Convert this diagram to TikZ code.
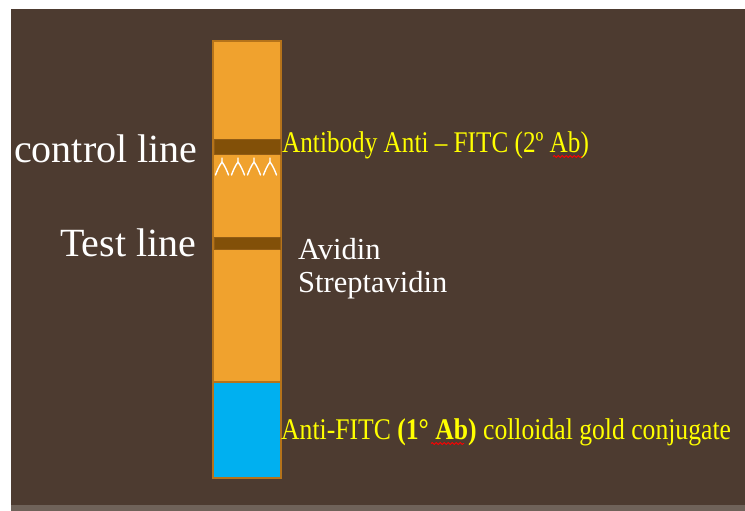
\documentclass[tikz,border=0pt]{standalone}
\usepackage{fontspec}
\setmainfont{Liberation Serif}
\usetikzlibrary{decorations.pathmorphing}
\definecolor{bgbrown}{HTML}{4D3B30}
\definecolor{bggray}{HTML}{6F6259}
\definecolor{striporange}{HTML}{F0A22E}
\definecolor{stripedge}{HTML}{B5731A}
\definecolor{bandbrown}{HTML}{825008}
\definecolor{padblue}{HTML}{00B0F0}
\definecolor{labelyellow}{HTML}{FFFF00}
\tikzset{
  leftlabel/.style={anchor=base west, inner sep=0pt, text=white, font=\fontsize{40}{46}\selectfont},
  whitelabel/.style={anchor=base west, inner sep=0pt, text=white, font=\fontsize{30.5}{36}\selectfont},
  yellowlabel/.style={anchor=base west, inner sep=0pt, text=labelyellow, font=\fontsize{30}{36}\selectfont},
  band/.style={fill=bandbrown, draw=stripedge!80!black, line width=0.6pt},
  squiggle/.style={draw=red, line width=0.9pt, decorate, decoration={snake, amplitude=0.9pt, segment length=4pt}},
  antibody/.style={draw=white, line width=1.4pt, line cap=round}
}
\begin{document}
\begin{tikzpicture}[x=1pt, y=-1pt]
\useasboundingbox (0,0) rectangle (745,511);
% background
\fill[white] (0,0) rectangle (745,511);
\fill[bgbrown] (11,9) rectangle (745,505);
\fill[bggray] (11,505) rectangle (745,511);
% strip
\draw[fill=striporange, draw=stripedge, line width=2pt] (213,41) rectangle (281,478);
\draw[fill=padblue, draw=stripedge, line width=1.5pt] (213.5,382) rectangle (280.5,477.5);
\draw[band] (214,139) rectangle (280,154);
\draw[band] (214,237) rectangle (280,249);
% antibodies below control line
\foreach \cx in {222,238,254,270}{
  \draw[antibody] (\cx,158) -- (\cx,162) .. controls (\cx-3,166) and (\cx-5,171) .. (\cx-6.5,175);
  \draw[antibody] (\cx,162) .. controls (\cx+3,166) and (\cx+5,171) .. (\cx+6.5,175);
}
% labels
\node[leftlabel] (ctrl) at (14,162) {control line};
\node[leftlabel] (test) at (60,256) {Test line};
\node[yellowlabel] (anti2) at (282,153) {\scalebox{0.84}[1]{Antibody Anti – FITC (2º Ab)}};
\node[whitelabel] (avidin) at (298,259) {Avidin};
\node[whitelabel] (strept) at (298,292) {Streptavidin};
\node[yellowlabel] (anti1) at (281,439) {\scalebox{0.855}[1]{Anti-FITC {\bfseries (1° Ab)} colloidal gold conjugate}};
% spell-check squiggles
\draw[squiggle] (553,156.5) -- (582,156.5);
\draw[squiggle] (431,443.5) -- (464,443.5);
\end{tikzpicture}
\end{document}
